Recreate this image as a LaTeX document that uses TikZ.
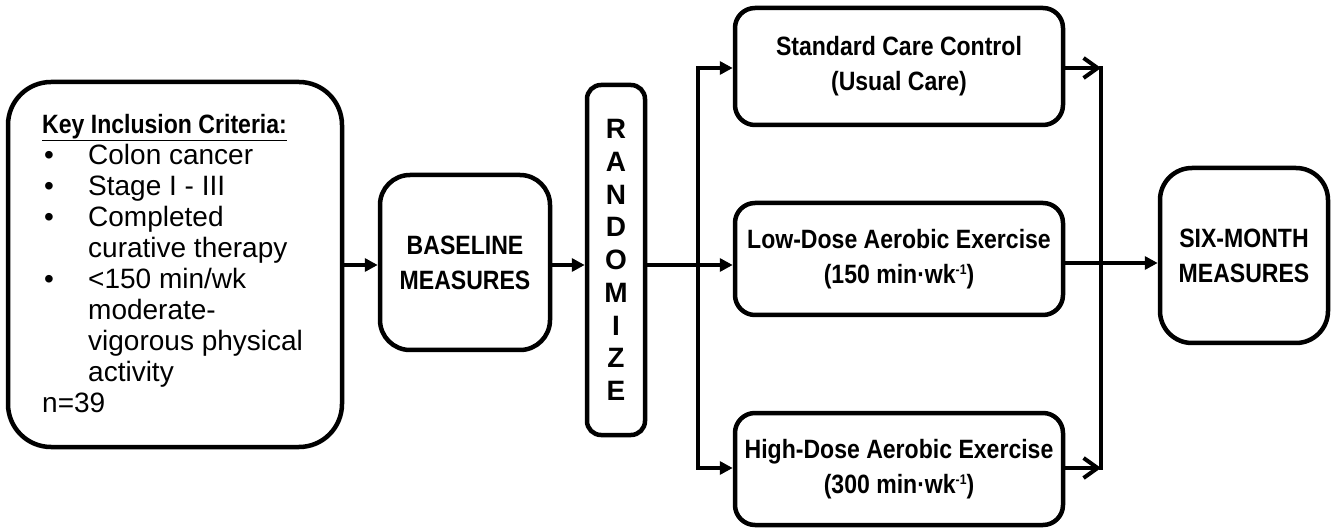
\documentclass[tikz,border=0pt]{standalone}
\usepackage{fontspec}
\setmainfont{Liberation Sans}
\newfontfamily\nbf[FakeStretch=0.87]{Liberation Sans Bold}
\usetikzlibrary{arrows.meta}
\newcommand\blt{\makebox[46pt][l]{\hspace*{2pt}\textbullet}}
\newcommand\ind{\hspace*{46pt}}
\newcommand\supx[1]{\raisebox{9pt}{\fontsize{14}{14}\selectfont #1}}
\begin{document}
\begin{tikzpicture}[x=1pt,y=-1pt,
  box/.style={draw, line width=4.5pt, rounded corners=#1, inner sep=0pt, align=center},
  box/.default=20pt,
  btxt/.style={font=\nbf\fontsize{26.5}{35}\selectfont},
  conn/.style={line width=4pt},
  arr/.style={conn, -{Triangle[length=13pt,width=13pt]}},
  openarr/.style={conn, -{Straight Barb[length=14pt,width=20pt,line width=4pt]}}]
\useasboundingbox (0,0) rectangle (1339,529);
% boxes
\node[box=43pt, minimum width=334pt, minimum height=365pt] (crit) at (175,264.5) {};
\node[anchor=north west, align=left, inner sep=0pt, font=\fontsize{28}{31}\selectfont] (critText) at (42,114)
 {{\nbf\fontsize{26.5}{31}\selectfont\underline{Key Inclusion Criteria:}}\\
  \blt Colon cancer\\
  \blt Stage I - III\\
  \blt Completed\\
  \ind curative therapy\\
  \blt <150 min/wk\\
  \ind moderate-\\
  \ind vigorous physical\\
  \ind activity\\
  n=39};
\node[box=30pt, btxt, minimum width=170pt, minimum height=175pt] (base) at (465,262.5) {BASELINE\\MEASURES};
\node[box=14pt, font=\bfseries\fontsize{28}{32.75}\selectfont, minimum width=58pt, minimum height=350pt] (rand) at (616,260)
 {R\\A\\N\\D\\O\\M\\I\\Z\\E};
\node[box=20pt, btxt, minimum width=328pt, minimum height=117pt] (ctrl) at (899,66.5) {Standard Care Control\\(Usual Care)};
\node[box=20pt, btxt, minimum width=328pt, minimum height=112pt] (low) at (899,259) {Low-Dose Aerobic Exercise\\(150 min·wk\supx{-1})};
\node[box=20pt, btxt, minimum width=328pt, minimum height=112pt] (high) at (899,469) {High-Dose Aerobic Exercise\\(300 min·wk\supx{-1})};
\node[box=32pt, btxt, minimum width=168pt, minimum height=175pt] (six) at (1244,255.5) {SIX-MONTH\\MEASURES};
% junctions
\coordinate (s1) at (698,265);
\coordinate (st) at (698,68);
\coordinate (sb) at (698,468);
\coordinate (m1) at (1101,68);
\coordinate (m2) at (1101,468);
\coordinate (m3) at (1101,263);
% connectors
\draw[arr] (crit.east |- s1) -- (base.west |- s1);
\draw[arr] (base.east |- s1) -- (rand.west |- s1);
\draw[arr] (rand.east |- s1) -- (low.west |- s1);
\draw[arr] (s1) -- (st) -- (ctrl.west |- st);
\draw[arr] (s1) -- (sb) -- (high.west |- sb);
\draw[openarr] (ctrl.east |- m1) -- (m1);
\draw[openarr] (high.east |- m2) -- (m2);
\draw[conn, line cap=rect] (m1) -- (m2);
\draw[arr] (low.east |- m3) -- (six.west |- m3);
\end{tikzpicture}
\end{document}
